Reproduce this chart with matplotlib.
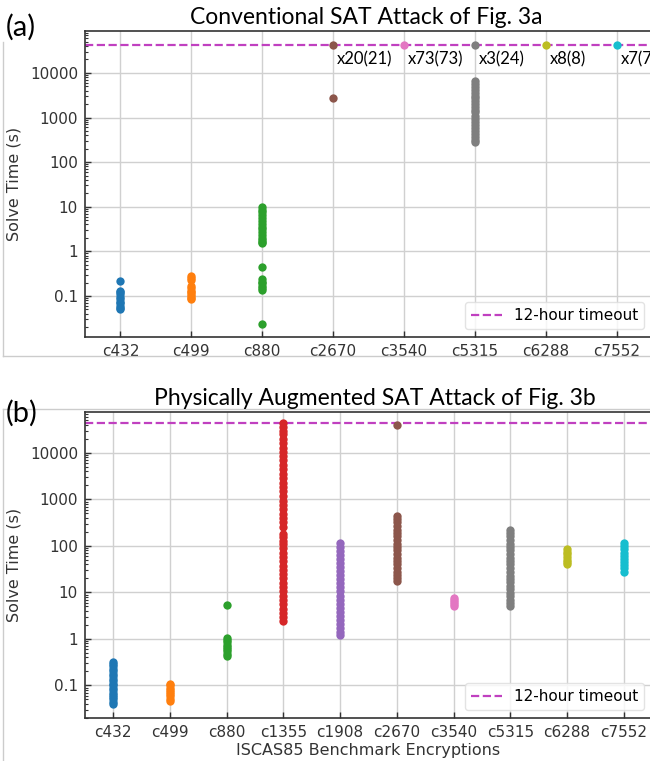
import numpy as np
import matplotlib
matplotlib.use('Agg')
from matplotlib import pyplot as plt
from matplotlib.lines import Line2D
from matplotlib.ticker import LogLocator, NullFormatter

plt.rcParams['font.family'] = ['DejaVu Sans']

# benchmark names
bench_all = ['c432', 'c499', 'c880', 'c1355', 'c1908', 'c2670', 'c3540', 'c5315', 'c6288', 'c7552']
bench_a = ['c432', 'c499', 'c880', 'c2670', 'c3540', 'c5315', 'c6288', 'c7552']

timeout = 43200  # 12 hours in seconds

# (a) conventional SAT attack solve times (s)
a_c432 = [0.22, 0.13, 0.12, 0.11, 0.095, 0.085, 0.075, 0.068, 0.06, 0.055, 0.05]
a_c499 = [0.28, 0.25, 0.23, 0.17, 0.15, 0.13, 0.12, 0.11, 0.10, 0.09, 0.085]
a_c880 = [10, 8.5, 7.5, 6.5, 5.5, 4.8, 4.2, 3.6, 3.1, 2.7, 2.3, 2.0, 1.8, 1.6, 1.5,
          0.44, 0.24, 0.21, 0.19, 0.17, 0.15, 0.135, 0.024]
a_c2670 = [timeout, 2800]
a_c3540 = [timeout]
a_c5315 = [timeout, 6500, 5600, 4800, 4200, 3600, 3100, 2700, 2300, 2000, 1700, 1500, 1300,
           1100, 950, 800, 680, 580, 500, 430, 370, 320, 280]
a_c6288 = [timeout]
a_c7552 = [timeout]
a_times = [a_c432, a_c499, a_c880, a_c2670, a_c3540, a_c5315, a_c6288, a_c7552]
a_notes = {'c2670': 'x20(21)', 'c3540': 'x73(73)', 'c5315': 'x3(24)', 'c6288': 'x8(8)', 'c7552': 'x7(7)'}

# (b) physically augmented SAT attack solve times (s)
b_c432 = [0.32, 0.29, 0.26, 0.23, 0.2, 0.18, 0.16, 0.14, 0.125, 0.11, 0.1, 0.09, 0.08,
          0.07, 0.063, 0.056, 0.05, 0.045, 0.04]
b_c499 = [0.11, 0.1, 0.09, 0.08, 0.072, 0.065, 0.058, 0.052, 0.047]
b_c880 = [5.5, 1.05, 0.95, 0.85, 0.75, 0.67, 0.6, 0.54, 0.48, 0.43]
b_c1355 = [43200, 36000, 30000, 25000, 20000, 16000, 13000, 10500, 8500, 7000, 5600, 4500,
           3600, 2900, 2300, 1850, 1500, 1200, 950, 760, 610, 490, 390, 320, 260,
           185, 155, 130, 110, 90, 72, 58, 47, 38, 31, 25, 20, 16, 13, 10.5, 8.5, 7,
           5.6, 4.5, 3.6, 2.9, 2.4]
b_c1908 = [115, 95, 78, 64, 52, 43, 35, 29, 24, 19.5, 16, 13, 10.5, 8.6, 7, 5.7, 4.7,
           3.8, 3.1, 2.5, 2.1, 1.7, 1.4, 1.2]
b_c2670 = [40000, 450, 380, 320, 270, 225, 190, 160, 135, 112, 95, 80, 67, 56, 47, 40,
           33, 28, 24, 20.5, 18]
b_c3540 = [7.5, 6.8, 6.2, 5.6, 5.2]
b_c5315 = [225, 190, 160, 135, 112, 95, 80, 67, 56, 47, 40, 33, 28, 23, 19.5, 16.5, 14,
           11.7, 9.8, 8.2, 6.9, 5.8, 5.1]
b_c6288 = [85, 75, 66, 58, 51, 45, 40]
b_c7552 = [115, 98, 84, 72, 62, 53, 45, 39, 33, 28]
b_times = [b_c432, b_c499, b_c880, b_c1355, b_c1908, b_c2670, b_c3540, b_c5315, b_c6288, b_c7552]

colors = ['tab:blue', 'tab:orange', 'tab:green', 'tab:red', 'tab:purple',
          'tab:brown', 'tab:pink', 'tab:gray', 'tab:olive', 'tab:cyan']
line_col = '#c040c0'
title_font = 'Lato'

fig = plt.figure(figsize=(6.5, 7.61), dpi=100)
ax_a = fig.add_axes([85 / 650, 1 - 337 / 761, 567 / 650, 306 / 761])
ax_b = fig.add_axes([85 / 650, 1 - 718 / 761, 567 / 650, 306 / 761])


def style_axis(ax, names, ylim):
    ax.set_yscale('log')
    ax.set_ylim(*ylim)
    ax.set_xlim(-0.5, len(names) - 0.5)
    ax.set_xticks(range(len(names)))
    ax.set_xticklabels(names)
    ax.set_yticks([0.1, 1, 10, 100, 1000, 10000])
    ax.set_yticklabels(['0.1', '1', '10', '100', '1000', '10000'])
    ax.yaxis.set_minor_locator(LogLocator(base=10, subs=np.arange(2, 10), numticks=20))
    ax.yaxis.set_minor_formatter(NullFormatter())
    ax.tick_params(axis='both', which='major', direction='in', length=4, width=1,
                   labelsize=11, colors='#333333', pad=5)
    ax.tick_params(axis='y', which='minor', direction='in', length=2, width=0.8, colors='#333333')
    ax.grid(True, which='major', color='#d0d0d0', linewidth=1)
    ax.set_axisbelow(True)
    for s in ax.spines.values():
        s.set_color('#333333')
        s.set_linewidth(1.2)
    ax.set_ylabel('Solve Time (s)', fontsize=11.5, color='#333333', labelpad=6)
    ax.axhline(timeout, color=line_col, linestyle='--', linewidth=1.6, label='12-hour timeout', zorder=2)
    leg = ax.legend(loc='lower right', fontsize=11, frameon=True, handlelength=2)
    leg.get_frame().set_edgecolor('#dddddd')


# panel (a)
for i, name in enumerate(bench_a):
    c = colors[bench_all.index(name)]
    ys = a_times[i]
    ax_a.scatter([i] * len(ys), ys, s=36, color=c, zorder=3, linewidths=0)
    if name in a_notes:
        ax_a.annotate(a_notes[name], (i, timeout), xytext=(3, -5), textcoords='offset points',
                      ha='left', va='top', fontsize=12, family=title_font)
style_axis(ax_a, bench_a, (0.012, 87000))

# panel (b)
for i, name in enumerate(bench_all):
    ys = b_times[i]
    ax_b.scatter([i] * len(ys), ys, s=36, color=colors[i], zorder=3, linewidths=0)
style_axis(ax_b, bench_all, (0.02, 76000))
ax_b.set_xlabel('ISCAS85 Benchmark Encryptions', fontsize=11.5, color='#333333', labelpad=2)

# panel titles and letters
fig.text(366 / 650, 1 - 17 / 761, 'Conventional SAT Attack of Fig. 3a', ha='center', va='center',
         fontsize=16.5, family=title_font)
fig.text(6 / 650, 1 - 27 / 761, '(a)', ha='left', va='center', fontsize=21, family=title_font)
fig.text(375 / 650, 1 - 399 / 761, 'Physically Augmented SAT Attack of Fig. 3b', ha='center',
         va='center', fontsize=16.5, family=title_font)
fig.text(6 / 650, 1 - 413 / 761, '(b)', ha='left', va='center', fontsize=21, family=title_font)

# thin panel frames
frame_kw = dict(color='#cccccc', linewidth=1, transform=fig.transFigure)
fig.add_artist(Line2D([3 / 650, 3 / 650], [1 - 42 / 761, 1 - 356 / 761], **frame_kw))
fig.add_artist(Line2D([3 / 650, 1], [1 - 356 / 761, 1 - 356 / 761], **frame_kw))
fig.add_artist(Line2D([3 / 650, 3 / 650], [1 - 409 / 761, 0], **frame_kw))
fig.add_artist(Line2D([3 / 650, 1], [1 - 409 / 761, 1 - 409 / 761], **frame_kw))

fig.savefig('out.png', dpi=100)
